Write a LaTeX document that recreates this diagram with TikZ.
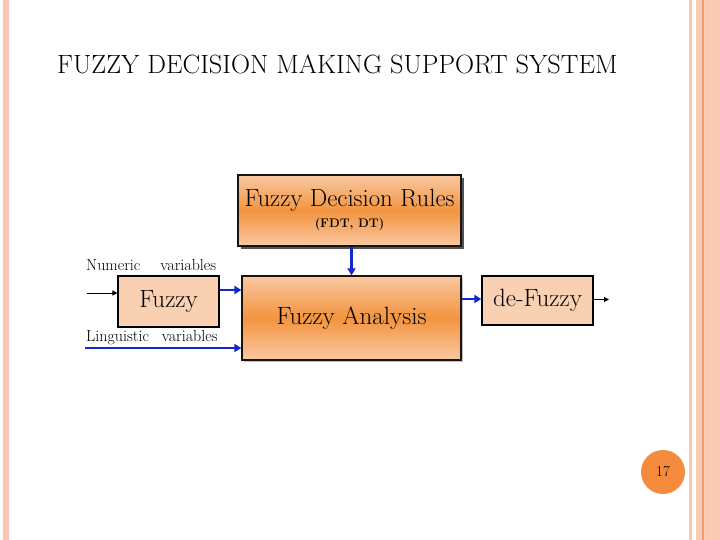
\documentclass[tikz,border=0pt]{standalone}
\usetikzlibrary{shadows,arrows.meta}
\definecolor{stripe}{HTML}{F8C6B2}
\definecolor{band}{HTML}{FCCBB5}
\definecolor{bandline}{HTML}{EE9F78}
\definecolor{peach}{HTML}{FAD0B2}
\definecolor{orgmid}{HTML}{F3943F}
\definecolor{orglight}{HTML}{F9C8A2}
\definecolor{circ}{HTML}{F58B3C}
\definecolor{arrblue}{HTML}{1428D2}
\tikzset{
  gradbox/.style={draw=black!85!brown, line width=1.2pt, top color=orglight, bottom color=orglight, middle color=orgmid, font=\fontsize{25}{29}\selectfont},
  plainbox/.style={draw=black, line width=1.2pt, fill=peach, font=\fontsize{25}{29}\selectfont},
  bluearrow/.style={draw=arrblue, line width=2.6pt, -{Triangle[length=7pt,width=8pt]}},
  blackarrow/.style={draw=black, line width=0.9pt, -{Triangle[length=5pt,width=5pt]}},
  lbl/.style={font=\fontsize{16}{19}\selectfont, anchor=west, inner sep=0pt}
}
\begin{document}
\begin{tikzpicture}[x=1pt,y=-1pt]
\useasboundingbox (0,0) rectangle (720,540);
% decorations
\fill[stripe] (3,0) rectangle (9,540);
\fill[stripe] (689,0) rectangle (692,540);
\fill[band] (696,0) rectangle (720,540);
\fill[bandline] (702,0) rectangle (703.5,540);
\fill[stripe!80!band] (707,0) rectangle (709,540);
% title
\node[anchor=west, inner sep=0pt, font=\fontsize{26.4}{30}\selectfont] (title) at (57,64) {FUZZY DECISION MAKING SUPPORT SYSTEM};
% boxes
\node[gradbox, minimum width=223pt, minimum height=71pt, inner sep=0pt,
      drop shadow={shadow xshift=3pt, shadow yshift=-3pt, fill=black!75, opacity=0.9}] (rules) at (349.5,210.5) {};
\node[inner sep=0pt, font=\fontsize{24.8}{28}\selectfont] (rt) at (349.5,200) {Fuzzy Decision Rules};
\node[inner sep=0pt, font=\fontsize{12.5}{14}\selectfont\bfseries] (rs) at (349.5,224) {(FDT, DT)};
\node[gradbox, minimum width=219pt, minimum height=84pt, inner sep=0pt,
      drop shadow={shadow xshift=2pt, shadow yshift=-2pt, fill=black!40, opacity=0.6}] (an) at (351.5,318) {Fuzzy Analysis};
\node[plainbox, minimum width=101pt, minimum height=51pt, inner sep=0pt] (fu) at (168.5,301.5) {Fuzzy};
\node[plainbox, minimum width=111pt, minimum height=49pt, inner sep=0pt] (de) at (537.5,300.5) {de-Fuzzy};
% labels
\node[lbl] (num) at (86,265) {Numeric\hspace{1.25em}variables};
\node[lbl] (ling) at (86,338) {Linguistic\hspace{0.8em}variables};
% connectors
\coordinate (numin) at (87,293);
\coordinate (lingin) at (85,348);
\coordinate (out) at (609,299.5);
\draw[blackarrow] (numin) -- (numin -| fu.west);
\draw[bluearrow] ([yshift=11.5pt]fu.east) -- ([yshift=11.5pt]fu.east -| an.west);
\draw[bluearrow] (lingin) -- (lingin -| an.west);
\draw[bluearrow] (rules.south -| an.north) -- (an.north);
\draw[bluearrow] ([yshift=19pt]an.east) -- ([yshift=19pt]an.east -| de.west);
\draw[blackarrow] (de.east |- out) -- (out);
% page number
\node[circle, fill=circ, minimum size=44pt, inner sep=0pt, font=\fontsize{15}{17}\selectfont] (pg) at (663,472) {17};
\end{tikzpicture}
\end{document}
